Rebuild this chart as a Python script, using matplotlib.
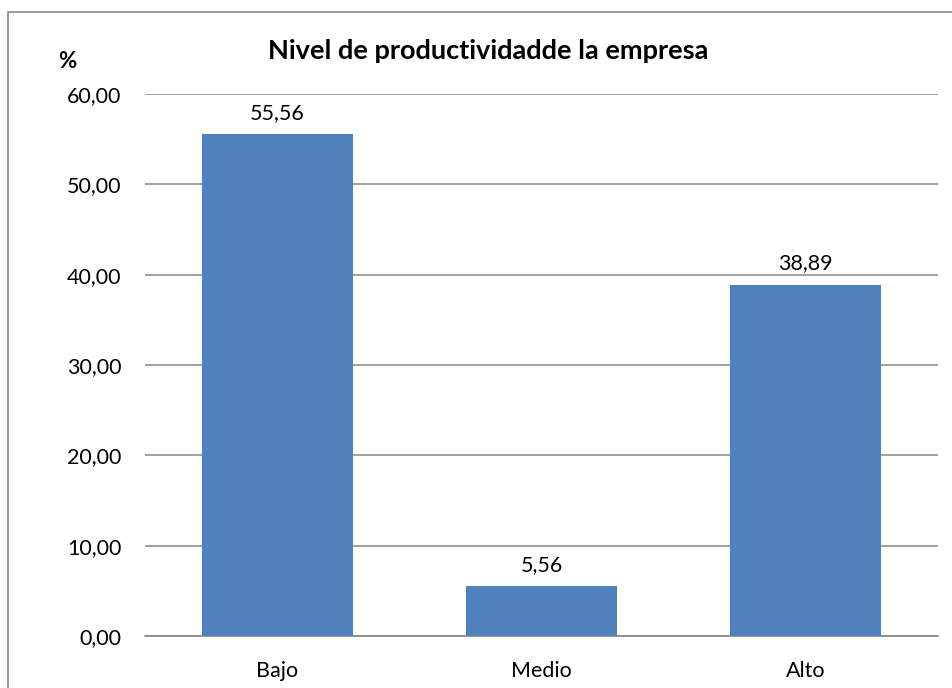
import matplotlib.pyplot as plt
from matplotlib.patches import Rectangle

categories = ["Bajo", "Medio", "Alto"]
values = [55.56, 5.56, 38.89]
yticks = [0, 10, 20, 30, 40, 50, 60]

plt.rcParams['font.family'] = ['Lato', 'DejaVu Sans']

fig = plt.figure(figsize=(9.53, 6.88), dpi=100)
ax = fig.add_axes([145 / 953, 1 - 636 / 688, (938 - 145) / 953, (636 - 94) / 688])

# outer chart frame (Excel style)
fig.patches.append(Rectangle((8 / 953, -0.1), 1.2, 1 - 12 / 688 + 0.1,
                             transform=fig.transFigure, fill=False,
                             edgecolor="#898989", linewidth=1.2))

x = range(len(categories))
bars = ax.bar(x, values, width=0.57, color="#4F81BD", zorder=3)

for b, v in zip(bars, values):
    ax.annotate(f"{v:.2f}".replace(".", ","), (b.get_x() + b.get_width() / 2, v),
                xytext=(0, 8), textcoords="offset points",
                ha="center", va="bottom", fontsize=15.5)

ax.set_xlim(-0.5, 2.5)
ax.set_ylim(0, 60)
ax.set_yticks(yticks)
ax.set_yticklabels([f"{t:.2f}".replace(".", ",") for t in yticks], fontsize=15.5)
ax.set_xticks(list(x))
ax.set_xticklabels(categories, fontsize=15.5)
ax.tick_params(axis="y", length=0, pad=17)
ax.tick_params(axis="x", length=0, pad=18)
ax.yaxis.grid(True, color="#868686", linewidth=1.1, zorder=0)

for s in ["left", "right", "top"]:
    ax.spines[s].set_visible(False)
ax.spines["bottom"].set_color("#868686")
ax.spines["bottom"].set_linewidth(1.2)

fig.text(488 / 953, 1 - 51 / 688, "Nivel de productividadde la empresa",
         ha="center", va="center", fontsize=19.5, fontweight="bold")
fig.text(67 / 953, 1 - 61 / 688, "%", ha="center", va="center",
         fontsize=16, fontweight="bold")

fig.savefig("out.png", dpi=100)
